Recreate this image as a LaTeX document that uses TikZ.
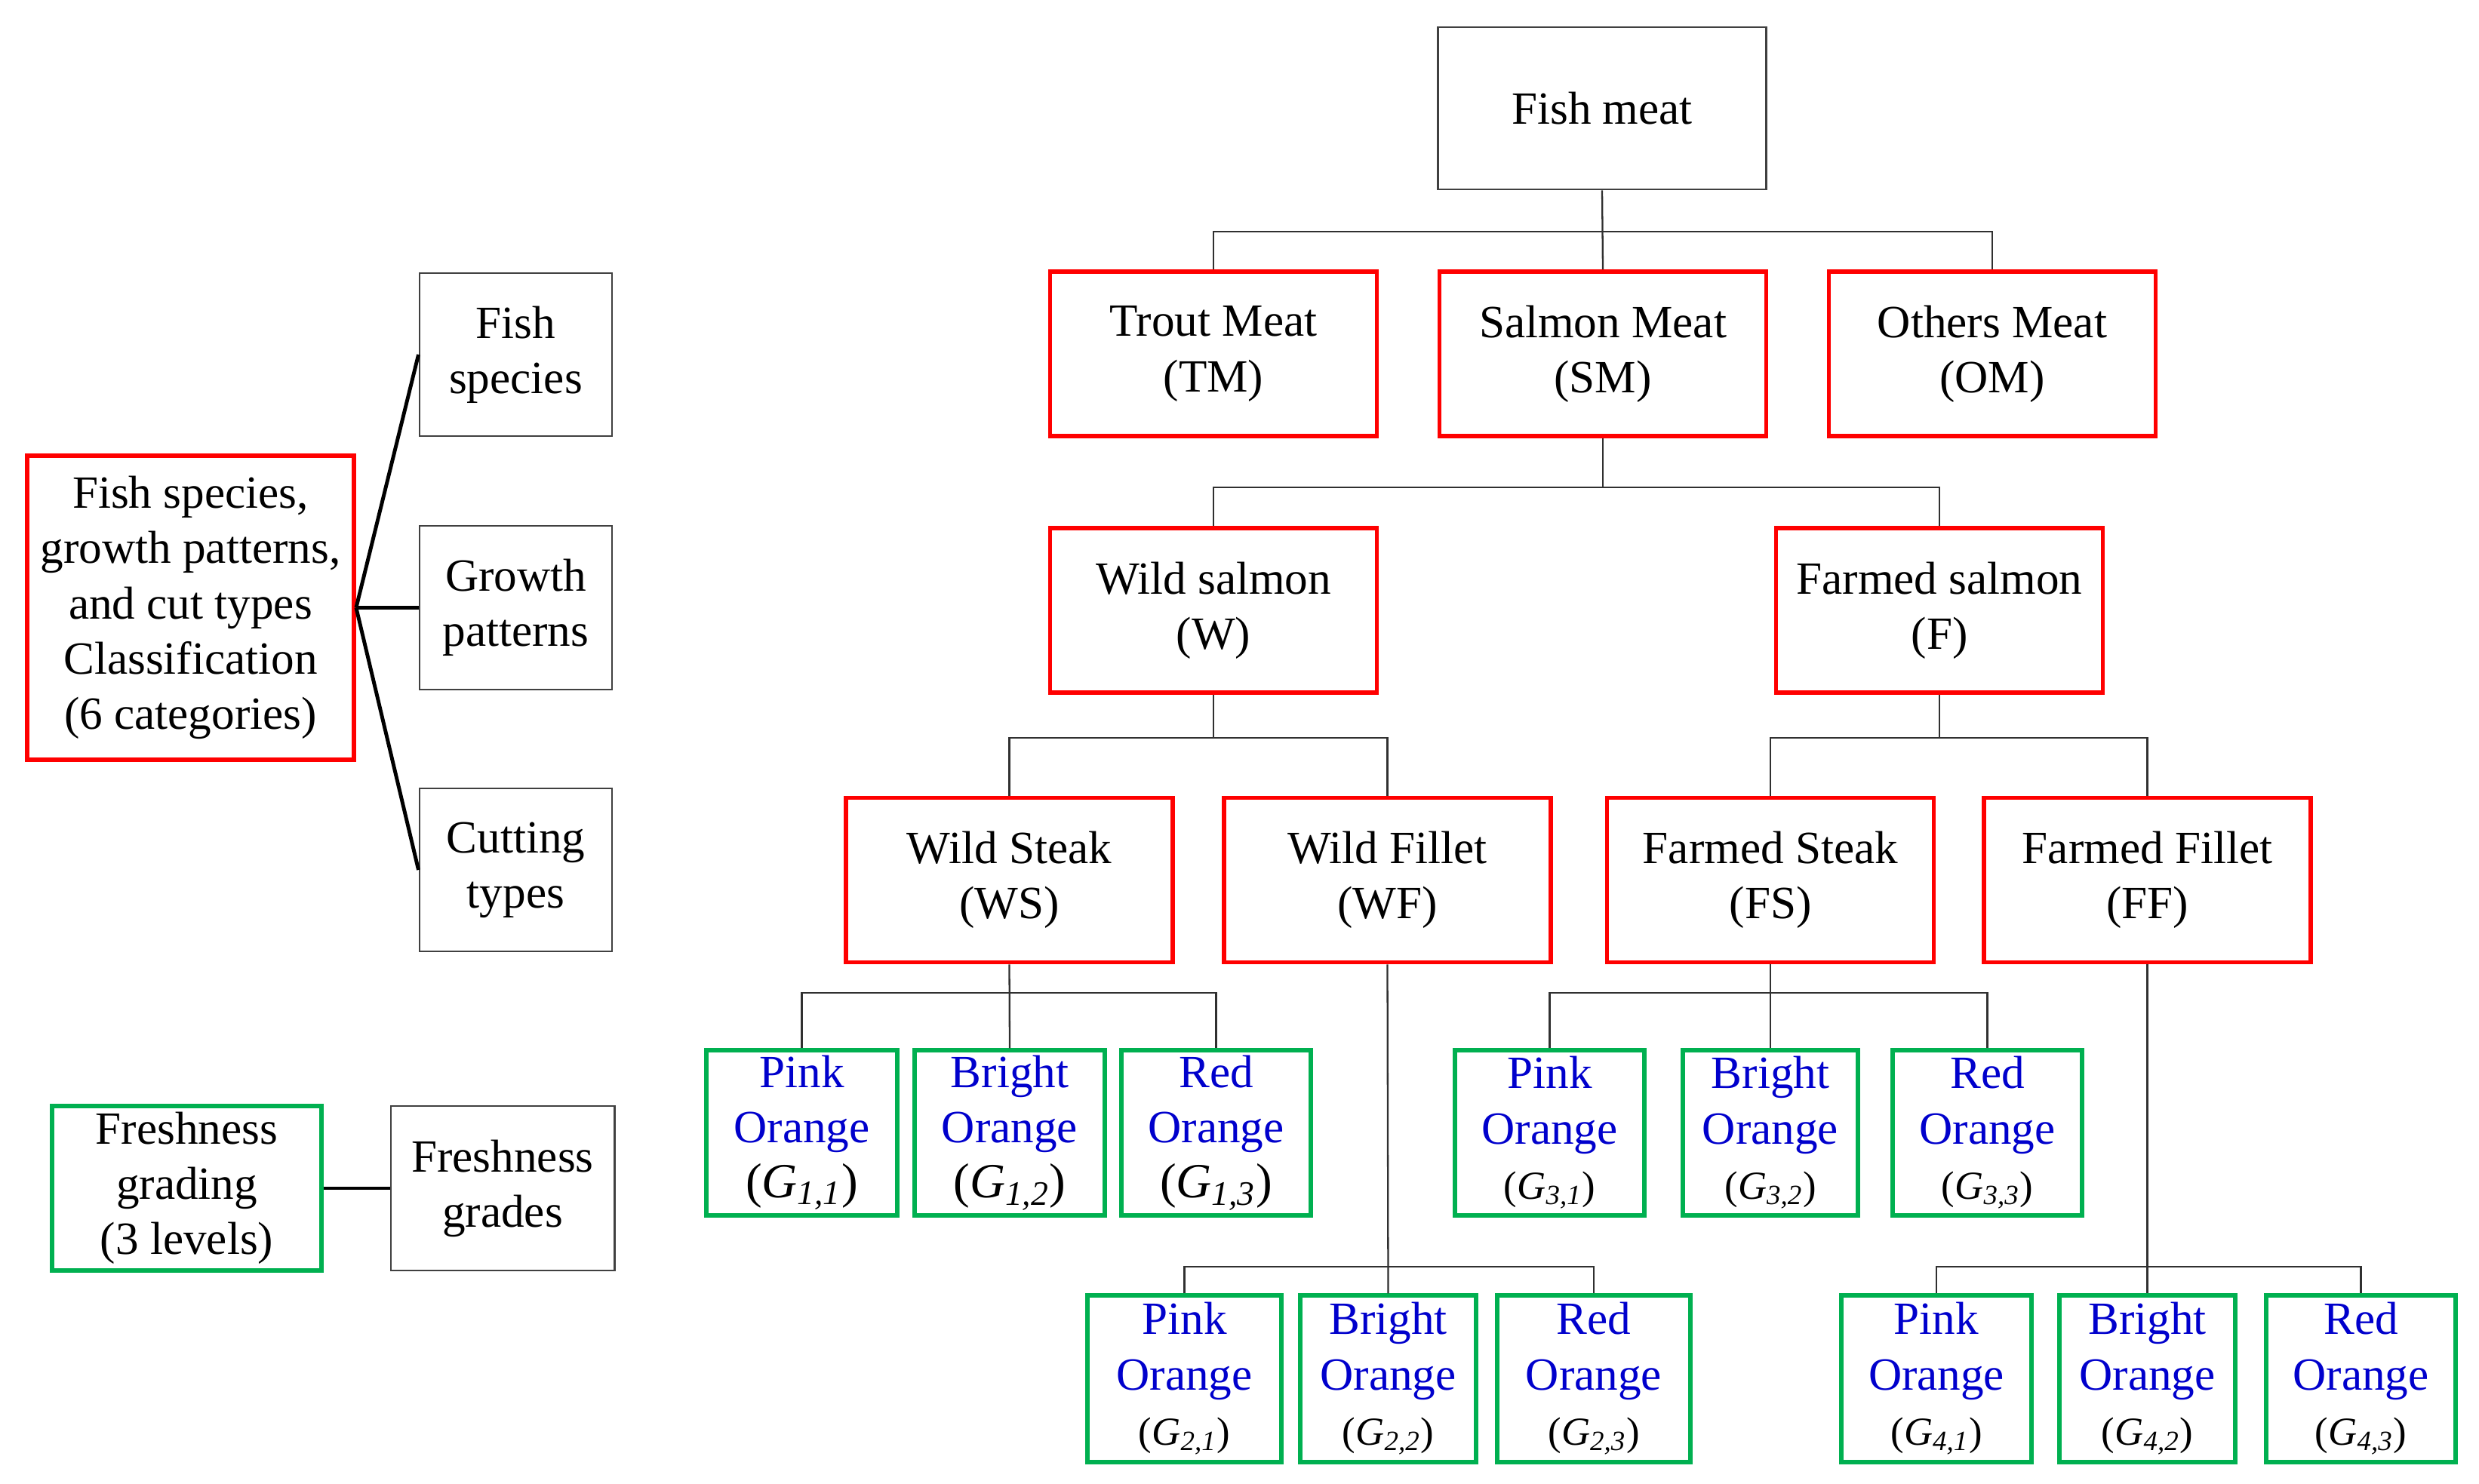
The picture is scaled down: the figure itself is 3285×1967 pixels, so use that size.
\documentclass[tikz,border=0pt]{standalone}
\usepackage{fontspec}
\setmainfont{Liberation Serif}
\definecolor{bxred}{HTML}{FF0000}
\definecolor{bxgreen}{HTML}{00B050}
\definecolor{txblue}{HTML}{0000CC}
\definecolor{bxgray}{HTML}{404040}
\definecolor{lngray}{HTML}{303030}
\newcommand{\gbig}[2]{{\fontsize{18.5}{22}\selectfont(\textit{G}\textsubscript{\textit{#1,#2}})}}
\newcommand{\gsmall}[2]{{\fontsize{15}{18}\selectfont(\textit{G}\textsubscript{\textit{#1,#2}})}}
\newcommand{\bl}[1]{\textcolor{txblue}{#1}}
\tikzset{
  basebox/.style={rectangle, inner sep=0pt, align=center, font=\fontsize{17.4}{20.8}\selectfont},
  blackbox/.style={basebox, draw=bxgray, line width=0.8pt},
  redbox/.style={basebox, draw=bxred, line width=1.6pt, minimum width=4.33cm, minimum height=2.18cm},
  greenbox/.style={basebox, draw=bxgreen, line width=1.5pt},
  conn/.style={draw=lngray, line width=0.65pt},
  thick conn/.style={draw=black, line width=1.4pt},
}
\begin{document}
\begin{tikzpicture}[x=0.01cm,y=-0.01cm]
\useasboundingbox (0,0) rectangle (3285,1967);

% top tree
\node[blackbox, minimum width=4.34cm, minimum height=2.15cm] (fm) at (2123,143.5) {Fish meat};
\node[redbox] (tm) at (1608,469) {Trout Meat\\(TM)};
\node[redbox] (sm) at (2124,469) {Salmon Meat\\(SM)};
\node[redbox] (om) at (2640,469) {Others Meat\\(OM)};
\node[redbox] (wsal) at (1608,809) {Wild salmon\\(W)};
\node[redbox] (fsal) at (2570,809) {Farmed salmon\\(F)};
\node[redbox] (wst) at (1337.5,1166.5) {Wild Steak\\(WS)};
\node[redbox] (wfi) at (1838.5,1166.5) {Wild Fillet\\(WF)};
\node[redbox] (fst) at (2346,1166.5) {Farmed Steak\\(FS)};
\node[redbox] (ffi) at (2845.5,1166.5) {Farmed Fillet\\(FF)};

% green row 1
\node[greenbox, minimum width=2.53cm, minimum height=2.19cm] (g11) at (1062.5,1501.5) {\bl{Pink}\\\bl{Orange}\\\gbig{1}{1}};
\node[greenbox, minimum width=2.52cm, minimum height=2.19cm] (g12) at (1338,1501.5) {\bl{Bright}\\\bl{Orange}\\\gbig{1}{2}};
\node[greenbox, minimum width=2.51cm, minimum height=2.19cm] (g13) at (1611.5,1501.5) {\bl{Red}\\\bl{Orange}\\\gbig{1}{3}};
\node[greenbox, minimum width=2.51cm, minimum height=2.19cm] (g31) at (2053.5,1501.5) {\bl{Pink}\\\bl{Orange}\\\gsmall{3}{1}};
\node[greenbox, minimum width=2.32cm, minimum height=2.19cm] (g32) at (2346,1501.5) {\bl{Bright}\\\bl{Orange}\\\gsmall{3}{2}};
\node[greenbox, minimum width=2.51cm, minimum height=2.19cm] (g33) at (2633.5,1501.5) {\bl{Red}\\\bl{Orange}\\\gsmall{3}{3}};

% green row 2
\node[greenbox, minimum width=2.57cm, minimum height=2.21cm] (g21) at (1569.5,1827.5) {\bl{Pink}\\\bl{Orange}\\\gsmall{2}{1}};
\node[greenbox, minimum width=2.33cm, minimum height=2.21cm] (g22) at (1839.5,1827.5) {\bl{Bright}\\\bl{Orange}\\\gsmall{2}{2}};
\node[greenbox, minimum width=2.56cm, minimum height=2.21cm] (g23) at (2112,1827.5) {\bl{Red}\\\bl{Orange}\\\gsmall{2}{3}};
\node[greenbox, minimum width=2.52cm, minimum height=2.21cm] (g41) at (2566,1827.5) {\bl{Pink}\\\bl{Orange}\\\gsmall{4}{1}};
\node[greenbox, minimum width=2.33cm, minimum height=2.21cm] (g42) at (2845.5,1827.5) {\bl{Bright}\\\bl{Orange}\\\gsmall{4}{2}};
\node[greenbox, minimum width=2.51cm, minimum height=2.21cm] (g43) at (3128.5,1827.5) {\bl{Red}\\\bl{Orange}\\\gsmall{4}{3}};

% bus coordinates
\coordinate (bus1) at (2124,307);
\coordinate (bus2) at (2124,646);
\coordinate (bus3) at (1608,978);
\coordinate (bus4) at (2570,978);
\coordinate (bus5) at (1338,1316);
\coordinate (bus6) at (2346,1316);
\coordinate (bus7) at (1838.5,1679);
\coordinate (bus8) at (2845.5,1679);

% tree connectors
\draw[conn] (fm.south) -- (sm.north);
\draw[conn] (tm.north) -- (tm.north |- bus1) -| (om.north);
\draw[conn] (sm.south) -- (bus2);
\draw[conn] (wsal.north) -- (wsal.north |- bus2) -| (fsal.north);
\draw[conn] (wsal.south) -- (bus3);
\draw[conn] (wst.north) -- (wst.north |- bus3) -| (wfi.north);
\draw[conn] (fsal.south) -- (bus4);
\draw[conn] (fst.north) -- (fst.north |- bus4) -| (ffi.north);
\draw[conn] (wst.south) -- (g12.north);
\draw[conn] (g11.north) -- (g11.north |- bus5) -| (g13.north);
\draw[conn] (fst.south) -- (g32.north);
\draw[conn] (g31.north) -- (g31.north |- bus6) -| (g33.north);
\draw[conn] (wfi.south) -- (g22.north);
\draw[conn] (g21.north) -- (g21.north |- bus7) -| (g23.north);
\draw[conn] (ffi.south) -- (g42.north);
\draw[conn] (g41.north) -- (g41.north |- bus8) -| (g43.north);

% left legend
\node[basebox, draw=bxred, line width=1.6pt, minimum width=4.33cm, minimum height=4.03cm] (cls) at (252.5,805.5)
  {Fish species,\\growth patterns,\\and cut types\\Classification\\(6 categories)};
\node[blackbox, minimum width=2.55cm, minimum height=2.16cm] (fsp) at (683.5,470) {Fish\\species};
\node[blackbox, minimum width=2.55cm, minimum height=2.17cm] (gp) at (683.5,805.5) {Growth\\patterns};
\node[blackbox, minimum width=2.55cm, minimum height=2.16cm] (ct) at (683.5,1153) {Cutting\\types};
\draw[thick conn] (cls.east) -- (fsp.west);
\draw[thick conn] (cls.east) -- (gp.west);
\draw[thick conn] (cls.east) -- (ct.west);

\node[greenbox, minimum width=3.57cm, minimum height=2.18cm] (fgd) at (247.5,1575) {Freshness\\grading\\(3 levels)};
\node[blackbox, minimum width=2.96cm, minimum height=2.18cm] (fgr) at (666,1575) {Freshness\\grades};
\draw[thick conn] (fgd.east) -- (fgr.west);
\end{tikzpicture}
\end{document}
